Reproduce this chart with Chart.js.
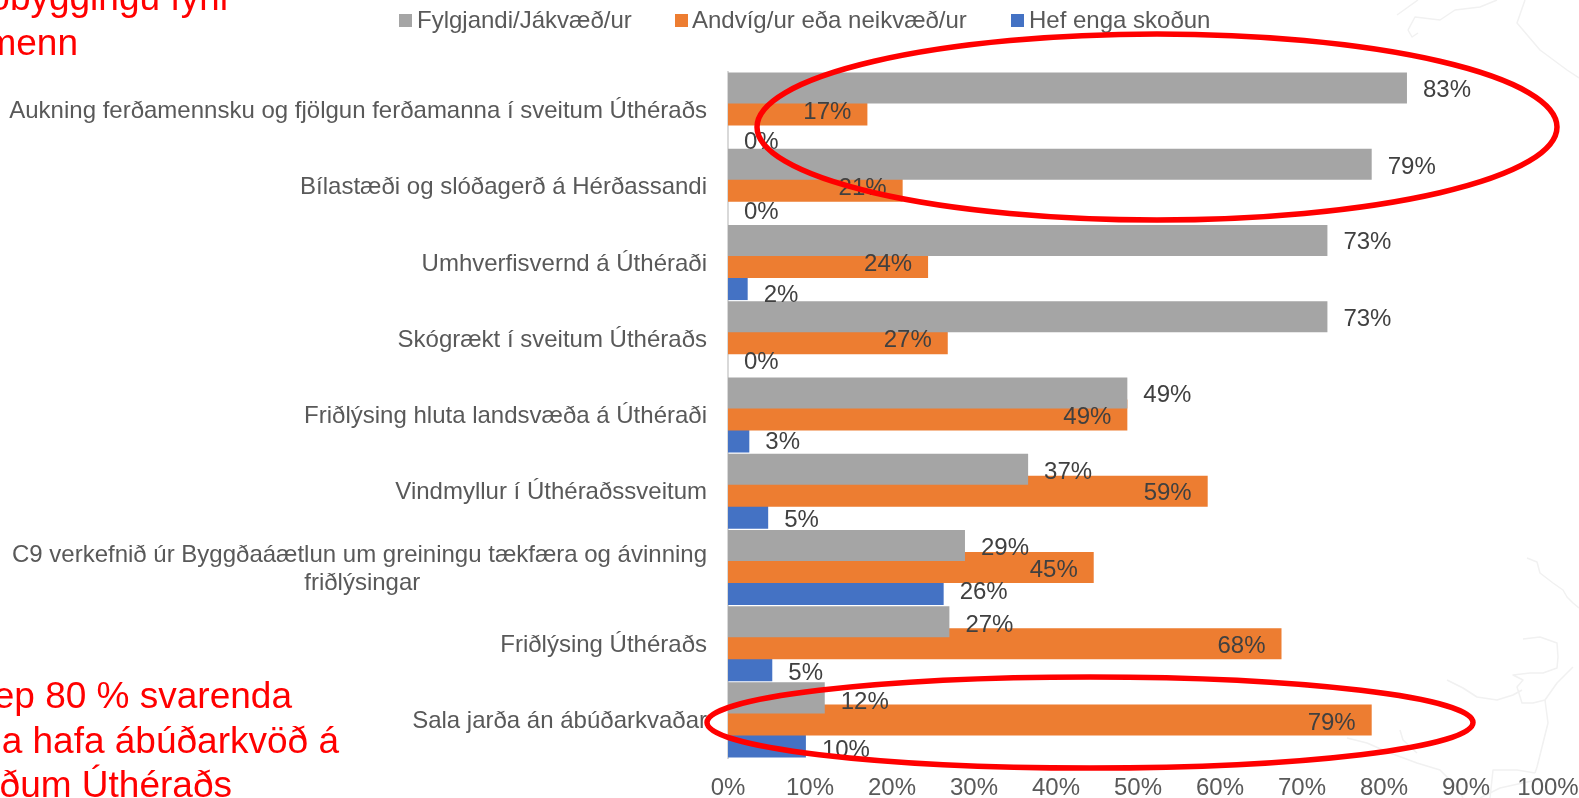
<!DOCTYPE html>
<html lang="is">
<head>
<meta charset="utf-8">
<title>Chart</title>
<style>html,body{margin:0;padding:0;background:#fff;overflow:hidden}canvas{display:block}</style>
<script src="https://cdn.jsdelivr.net/npm/chart.js@4"></script>
</head>
<body>
<canvas id="c" width="1579" height="798"></canvas>
<script>
const categories = [
  "Aukning ferðamennsku og fjölgun ferðamanna í sveitum Úthéraðs",
  "Bílastæði og slóðagerð á Hérðassandi",
  "Umhverfisvernd á Úthéraði",
  "Skógrækt í sveitum Úthéraðs",
  "Friðlýsing hluta landsvæða á Úthéraði",
  "Vindmyllur í Úthéraðssveitum",
  ["C9 verkefnið úr Byggðaáætlun um greiningu tækfæra og ávinning", "friðlýsingar"],
  "Friðlýsing Úthéraðs",
  "Sala jarða án ábúðarkvaðar"
];
const seriesNames = ["Fylgjandi/Jákvæð/ur", "Andvíg/ur eða neikvæð/ur", "Hef enga skoðun"];
const positive = [82.8, 78.5, 73.1, 73.1, 48.7, 36.6, 28.9, 27.0, 11.8];
const negative = [17.0, 21.3, 24.4, 26.8, 48.7, 58.5, 44.6, 67.5, 78.5];
const noOpinion = [0, 0, 2.4, 0, 2.6, 4.9, 26.3, 5.4, 9.5];
const tickStep = 10;
const redNotesTop = ["obyggingu fyrir", "menn"];
const redNotesBottom = ["ep 80 % svarenda", "a hafa ábúðarkvöð á", "ðum Úthéraðs"];

/* layout and style, kept apart from the data */
const FONT = '"Liberation Sans", Arial, sans-serif';
const colors = ["#A5A5A5", "#ED7D31", "#4472C4"];
const labelInside = [false, true, false];
const labelDrop = [
  [2, 3, 2, 3, 2, 3, 3, 4, 4],
  [2, 2, 2, 2, 2, 2, 3, 3, 3],
  [10, 4, 11, 1.5, 5, 7.5, 3, 7.5, 8.5]
];
const legendLayout = [{box: 399, text: 417}, {box: 675, text: 692}, {box: 1011, text: 1029}];
const categoryLabelDrop = 1.5;

const bgLines = [
  [[1397,15],[1418,0]],
  [[1408,30],[1415,17],[1440,20],[1455,10],[1480,7],[1497,0]],
  [[1408,30],[1412,37],[1418,33]],
  [[1525,0],[1517,23],[1540,50],[1567,70],[1579,78]],
  [[1527,558],[1537,562],[1540,573],[1553,583],[1563,590],[1567,597],[1573,603],[1579,608]],
  [[1523,639],[1540,637],[1557,643],[1558,657],[1557,668],[1543,673],[1530,673],[1513,675],[1523,680],[1517,687],[1522,703],[1533,703],[1545,700],[1557,683],[1573,667]],
  [[1447,680],[1463,688],[1477,697],[1497,700],[1513,695],[1522,690]],
  [[1545,700],[1548,723],[1542,747],[1537,767],[1535,773]],
  [[1347,738],[1367,743],[1390,753],[1417,763],[1440,770],[1457,787],[1463,798]],
  [[1400,730],[1403,740],[1417,753]],
  [[1490,798],[1493,770],[1517,770],[1535,773]],
  [[1480,798],[1500,788],[1527,782],[1540,780]]
];

const paperPlugin = {
  id: 'paper',
  beforeDraw(chart) {
    const items = chart.scales.y.getLabelItems();
    if (!chart.$labelsNudged) {
      items.forEach(it => { it.options.translation[1] += categoryLabelDrop; });
      chart.$labelsNudged = true;
    }
    const g = chart.ctx;
    g.save();
    g.fillStyle = '#fff';
    g.fillRect(0, 0, chart.width, chart.height);
    g.strokeStyle = '#F1F1F1';
    g.lineWidth = 1.5;
    g.lineJoin = 'round';
    bgLines.forEach(l => {
      g.beginPath();
      l.forEach((p, i) => i ? g.lineTo(p[0], p[1]) : g.moveTo(p[0], p[1]));
      g.stroke();
    });
    g.restore();
  }
};

const overlayPlugin = {
  id: 'overlay',
  afterDraw(chart) {
    const g = chart.ctx;
    g.save();

    /* legend */
    g.font = '24px ' + FONT;
    g.textBaseline = 'middle';
    g.textAlign = 'left';
    chart.data.datasets.forEach((d, i) => {
      g.fillStyle = d.backgroundColor;
      g.fillRect(legendLayout[i].box, 14, 13, 13);
      g.fillStyle = '#595959';
      g.fillText(d.label, legendLayout[i].text, 21);
    });

    /* value labels */
    g.fillStyle = '#404040';
    chart.data.datasets.forEach((d, i) => {
      const meta = chart.getDatasetMeta(i);
      meta.data.forEach((bar, j) => {
        const txt = Math.round(d.data[j]) + '%';
        const inside = labelInside[i];
        g.textAlign = inside ? 'right' : 'left';
        g.fillText(txt, bar.x + (inside ? -16 : 16), bar.y + labelDrop[i][j]);
      });
    });

    /* red notes */
    g.fillStyle = '#FF0000';
    g.font = '37px ' + FONT;
    g.textBaseline = 'alphabetic';
    g.textAlign = 'right';
    g.fillText(redNotesTop[0], 232, 10);
    g.fillText(redNotesTop[1], 78, 55);
    g.fillText(redNotesBottom[0], 292, 708);
    g.fillText(redNotesBottom[1], 339, 753);
    g.fillText(redNotesBottom[2], 232, 797);

    /* red rings */
    g.strokeStyle = '#FF0000';
    g.lineWidth = 5.5;
    g.beginPath();
    g.ellipse(1157, 127, 400, 93, 0, 0, Math.PI * 2);
    g.stroke();
    g.beginPath();
    g.ellipse(1090, 722.5, 383, 45.5, 0, 0, Math.PI * 2);
    g.stroke();
    g.restore();
  }
};

/* centre the short second line of a wrapped label under the long first line */
const measure = document.createElement('canvas').getContext('2d');
function centredLines(label, font) {
  if (!Array.isArray(label)) return label;
  measure.font = font;
  const longest = Math.max(...label.map(t => measure.measureText(t).width));
  const nbsp = measure.measureText('\u00A0').width;
  return label.map(t => t + '\u00A0'.repeat(Math.round((longest - measure.measureText(t).width) / 2 / nbsp)));
}

new Chart(document.getElementById('c'), {
  type: 'bar',
  data: {
    labels: categories,
    datasets: [
      {label: seriesNames[0], data: positive, backgroundColor: colors[0]},
      {label: seriesNames[1], data: negative, backgroundColor: colors[1]},
      {label: seriesNames[2], data: noOpinion, backgroundColor: colors[2]}
    ]
  },
  options: {
    indexAxis: 'y',
    responsive: false,
    animation: false,
    categoryPercentage: 0.866,
    barPercentage: 1.41,
    layout: {padding: {top: 72, right: 31, bottom: 0, left: 0}},
    plugins: {legend: {display: false}, title: {display: false}, tooltip: {enabled: false}},
    scales: {
      x: {
        min: 0, max: 100,
        grid: {display: false, drawTicks: false},
        border: {display: false},
        afterFit(s) { s.height = 40; s.paddingLeft = 0; s.paddingRight = 0; },
        ticks: {
          stepSize: tickStep, autoSkip: false, maxRotation: 0, padding: 16,
          color: '#595959',
          font: {family: FONT, size: 24},
          callback: v => v + '%'
        }
      },
      y: {
        grid: {display: false, drawTicks: false},
        border: {display: true, color: '#D9D9D9', width: 2},
        afterFit(s) { s.width = 728; s.paddingTop = 0; s.paddingBottom = 0; },
        ticks: {
          padding: 21, autoSkip: false,
          color: '#595959',
          font: {family: FONT, size: 24, lineHeight: 28 / 24},
          callback(v, i) { return centredLines(categories[i], '24px ' + FONT); }
        }
      }
    }
  },
  plugins: [paperPlugin, overlayPlugin]
});
</script>
</body>
</html>
